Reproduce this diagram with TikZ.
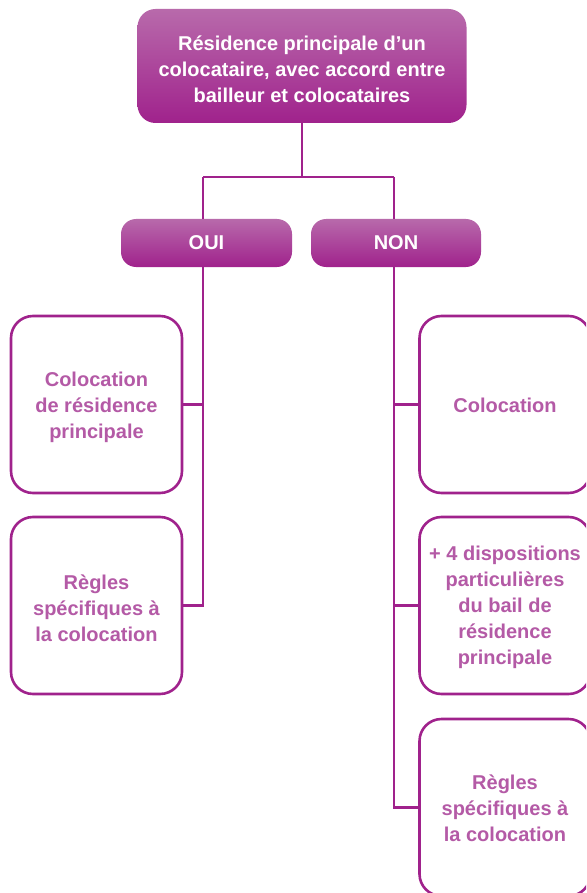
\documentclass[tikz,border=0pt]{standalone}
\usepackage{fontspec}
\setmainfont{Liberation Sans}
\definecolor{pdark}{HTML}{A0228C}
\definecolor{plight}{HTML}{B86AAB}
\definecolor{ptext}{HTML}{B45AA6}
\tikzset{
  headbox/.style={rounded corners=18pt, top color=plight, bottom color=pdark, draw=none,
    inner sep=0pt},
  answerbox/.style={headbox, rounded corners=15pt, text=white,
    font=\fontsize{20}{26}\selectfont\bfseries},
  headtext/.style={text=white, font=\fontsize{20}{26}\selectfont\bfseries, align=center, inner sep=0pt},
  leafbox/.style={draw=pdark, line width=2.6pt, rounded corners=22pt, fill=white,
    inner sep=0pt, minimum width=171pt, minimum height=177pt},
  leaftext/.style={text=ptext, font=\fontsize{20}{26}\selectfont\bfseries, align=center, inner sep=0pt},
  link/.style={draw=pdark, line width=2.6pt}
}
\begin{document}
\begin{tikzpicture}[x=1pt,y=-1pt]
\useasboundingbox (0,0) rectangle (586,893);
\clip (0,0) rectangle (586,893);
\node[headbox, minimum width=329pt, minimum height=114pt] (top) at (302,66) {};
\node[headtext] (ttop) at ([yshift=-3pt]top.center)
  {Résidence principale d’un\\colocataire, avec accord entre\\bailleur et colocataires};
\node[answerbox, minimum width=171pt, minimum height=48pt] (oui) at (206.5,243) {OUI};
\node[answerbox, minimum width=170pt, minimum height=48pt] (non) at (396,243) {NON};
\node[leafbox] (l1) at (96.5,404.5) {};
\node[leaftext] (tl1) at ([yshift=-3pt]l1.center) {Colocation\\de résidence\\principale};
\node[leafbox] (l2) at (96.5,605.5) {};
\node[leaftext] (tl2) at ([yshift=-3pt]l2.center) {Règles\\spécifiques à\\la colocation};
\node[leafbox] (r1) at (505,404.5) {};
\node[leaftext] (tr1) at ([yshift=-1pt]r1.center) {Colocation};
\node[leafbox] (r2) at (505,605.5) {};
\node[leaftext] (tr2) at ([yshift=-2pt]r2.center) {+ 4 dispositions\\particulières\\du bail de\\résidence\\principale};
\node[leafbox] (r3) at (505,807.5) {};
\node[leaftext] (tr3) at ([yshift=-1pt]r3.center) {Règles\\spécifiques à\\la colocation};
\coordinate (jl) at (203,177);
\coordinate (jr) at (394,177);
\draw[link] (top.south) -- (top.south |- jl);
\draw[link] (jl) -- (jr);
\draw[link] (jl) -- (jl |- oui.north);
\draw[link] (jr) -- (jr |- non.north);
\draw[link] (jl |- oui.south) -- (jl |- l2.east) -- (l2.east);
\draw[link] (l1.east) -- (l1.east -| jl);
\draw[link] (jr |- non.south) -- (jr |- r3.west) -- (r3.west);
\draw[link] (r1.west) -- (r1.west -| jr);
\draw[link] (r2.west) -- (r2.west -| jr);
\end{tikzpicture}
\end{document}
